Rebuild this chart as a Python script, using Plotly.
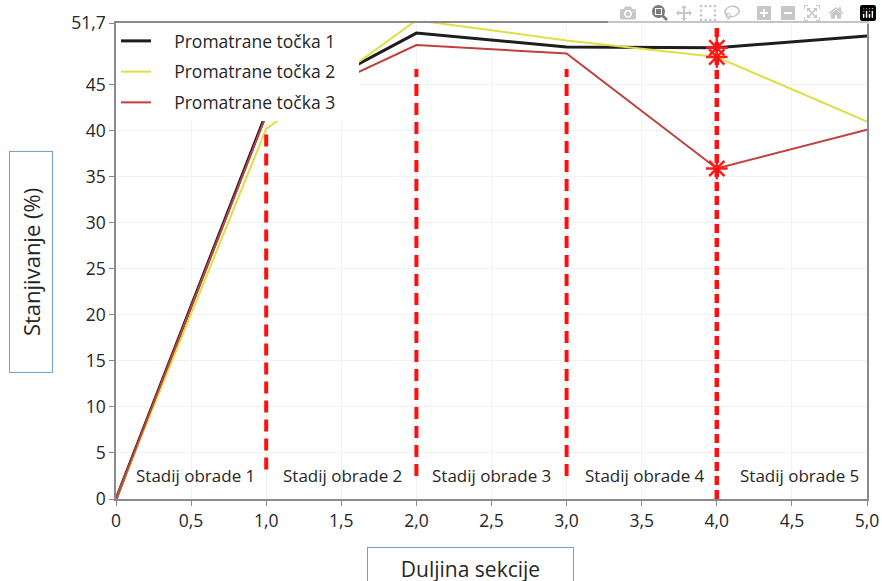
import plotly.graph_objects as go

# sekcije (x) i stanjivanje (%) za tri promatrane točke
sekcije = [0, 1, 2, 3, 4, 5]
tocka_1 = [0, 41.9, 50.6, 49.1, 49.0, 50.3]
tocka_2 = [0, 40.2, 52.0, 49.8, 48.0, 41.0]
tocka_3 = [0, 41.7, 49.3, 48.4, 35.9, 40.1]

nazivi = ["Promatrane točka 1", "Promatrane točka 2", "Promatrane točka 3"]
boje = ["#1e1e1e", "#dede45", "#c0403f"]

# granice stadija obrade i oznake
granice = [1, 2, 3, 4]
stadiji = ["Stadij obrade 1", "Stadij obrade 2", "Stadij obrade 3",
           "Stadij obrade 4", "Stadij obrade 5"]
stadij_x = [0.53, 1.51, 2.5, 3.52, 4.55]

x_ticks = [0, 0.5, 1, 1.5, 2, 2.5, 3, 3.5, 4, 4.5, 5]
x_tick_text = ["0", "0,5", "1,0", "1,5", "2,0", "2,5", "3,0", "3,5", "4,0", "4,5", "5,0"]
y_ticks = [0, 5, 10, 15, 20, 25, 30, 35, 40, 45, 51.7]
y_tick_text = ["0", "5", "10", "15", "20", "25", "30", "35", "40", "45", "51,7"]

FONT = "Open Sans"
TXT = "#262626"
NB = "\u00a0"

fig = go.Figure()

for i, (ime, y) in enumerate(zip(nazivi, [tocka_1, tocka_2, tocka_3])):
    fig.add_trace(go.Scatter(
        x=sekcije, y=y, mode="lines", name=NB * 4 + ime + NB * 4,
        legendgroup=str(i),
        line=dict(color=boje[i], width=3 if i == 0 else 2),
    ))

# oznake na granici 4. stadija
idx = sekcije.index(4)
fig.add_trace(go.Scatter(
    x=[4, 4, 4], y=[tocka_1[idx], tocka_2[idx], tocka_3[idx]],
    mode="markers", showlegend=False,
    marker=dict(symbol="asterisk-open", size=18, color="#ff1a1a",
                line=dict(color="#ff1a1a", width=2.5)),
))

# isprekidane okomite linije
shapes = []
for g in granice:
    if g == 1:
        y0, y1, dash, w = 3.2, 40.3, "12px,7px", 4
    elif g == 4:
        y0, y1, dash, w = 0, 51.7, "9px,5px", 4.5
    else:
        y0, y1, dash, w = 2.5, 46.7, "12px,7px", 4
    shapes.append(dict(type="line", xref="x", yref="y", x0=g, x1=g, y0=y0, y1=y1,
                       line=dict(color="#ff1010", width=w, dash=dash), layer="above"))

annotations = []
for tx, xx in zip(stadiji, stadij_x):
    annotations.append(dict(x=xx, y=2.5, xref="x", yref="y", text=tx, showarrow=False,
                            font=dict(family=FONT, size=17, color=TXT)))

annotations.append(dict(
    x=-0.1132, y=0.498, xref="paper", yref="paper", text="Stanjivanje (%)",
    xanchor="center", yanchor="middle",
    showarrow=False, textangle=-90, width=218, height=40,
    bordercolor="#6f9fd6", borderwidth=1, bgcolor="white",
    font=dict(family=FONT, size=22, color=TXT),
))
# okvir naslova x osi ide do dna slike
annotations.append(dict(
    x=0.4727, y=0, xref="paper", yref="paper", text="Duljina sekcije",
    xanchor="center", yanchor="top", yshift=-48,
    showarrow=False, width=203, height=40,
    bordercolor="#6f9fd6", borderwidth=1, bgcolor="white",
    font=dict(family=FONT, size=21, color=TXT),
))

fig.update_layout(
    width=882, height=581,
    margin=dict(l=116, r=15, t=23, b=82),
    paper_bgcolor="white", plot_bgcolor="white",
    font=dict(family=FONT, size=17.5, color=TXT),
    shapes=shapes, annotations=annotations,
    legend=dict(x=0, y=1, xanchor="left", yanchor="top",
                bgcolor="white", font=dict(family=FONT, size=17.5, color=TXT),
                tracegroupgap=5),
)

fig.update_xaxes(
    range=[0, 5], tickvals=x_ticks, ticktext=x_tick_text, automargin=False,
    ticklabeloverflow="allow",
    showgrid=True, gridcolor="#f2f2f2", zeroline=False,
    showline=True, linecolor="#8a8a8a", linewidth=1.5, mirror=True,
    ticks="outside", ticklen=5, tickcolor="#8a8a8a",
)
fig.update_yaxes(
    range=[0, 51.7], tickvals=y_ticks, ticktext=y_tick_text, automargin=False,
    showgrid=True, gridcolor="#f2f2f2", zeroline=False,
    showline=True, linecolor="#8a8a8a", linewidth=1.5, mirror=True,
    ticks="outside", ticklen=5, tickcolor="#8a8a8a",
)

# bez 8px margine stranice slika stane u prozor
fig.write_html("out.html", post_script="document.body.style.margin='0';")
